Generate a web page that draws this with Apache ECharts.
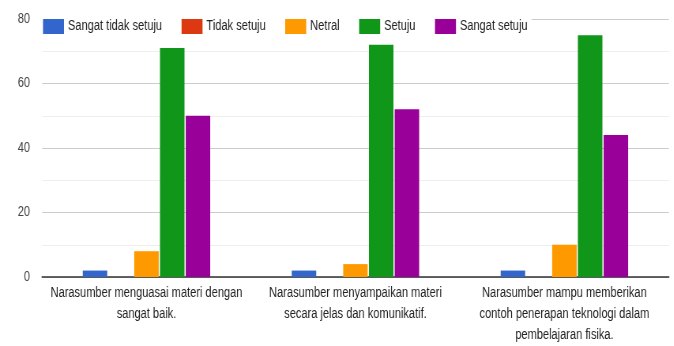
<!DOCTYPE html>
<html><head><meta charset="utf-8">
<script src="https://cdn.jsdelivr.net/npm/echarts@6/dist/echarts.min.js"></script>
<style>
html,body{margin:0;padding:0;background:#fff;overflow:hidden}
#wrap{width:674px;height:346px;overflow:hidden}
#c{width:853px;height:346px;transform:scaleX(0.79);transform-origin:0 0}
</style>
</head><body><div id="wrap"><div id="c"></div></div>
<script>
const categories = [
  "Narasumber menguasai materi dengan\nsangat baik.",
  "Narasumber menyampaikan materi\nsecara jelas dan komunikatif.",
  "Narasumber mampu memberikan\ncontoh penerapan teknologi dalam\npembelajaran fisika."
];
const seriesNames = ["Sangat tidak setuju", "Tidak setuju", "Netral", "Setuju", "Sangat setuju"];
const sangatTidakSetuju = [2, 2, 2];
const tidakSetuju = [0, 0, 0];
const netral = [8, 4, 10];
const setuju = [71, 72, 75];
const sangatSetuju = [50, 52, 44];
const yTicks = [0, 20, 40, 60, 80];
const colors = ["#3366CC", "#DC3912", "#FF9900", "#109618", "#990099"];
const values = [sangatTidakSetuju, tidakSetuju, netral, setuju, sangatSetuju];
const FONT = "'Liberation Sans', Arial, sans-serif";
const SX = 0.79; // horizontal squeeze of the reference image

const chart = echarts.init(document.getElementById('c'));
chart.setOption({
  animation: false,
  textStyle: { fontFamily: FONT },
  legend: {
    left: 43 / SX - 5, top: 14, padding: [5, 5, 5, 5],
    backgroundColor: '#fff',
    itemWidth: 21 / SX, itemHeight: 15, itemGap: 19.5 / SX,
    icon: 'rect',
    textStyle: { fontFamily: FONT, fontSize: 14, color: '#222' },
    data: seriesNames
  },
  grid: { left: 42 / SX, right: 5 / SX, top: 19, bottom: 66, containLabel: false },
  xAxis: {
    type: 'category', data: categories,
    axisLine: { lineStyle: { color: '#333', width: 1.5 } },
    axisTick: { show: false },
    axisLabel: { interval: 0, color: '#222', fontFamily: FONT, fontSize: 14, lineHeight: 21, margin: 6 }
  },
  yAxis: {
    type: 'value', min: 0, max: yTicks[yTicks.length - 1], interval: 20,
    axisLine: { show: false }, axisTick: { show: false },
    axisLabel: { color: '#444', fontFamily: FONT, fontSize: 14, margin: 12 / SX },
    splitLine: { lineStyle: { color: '#cccccc', width: 1 } },
    minorTick: { show: false, splitNumber: 2 },
    minorSplitLine: { show: true, lineStyle: { color: '#eeeeee', width: 1 } }
  },
  series: seriesNames.map((n, i) => ({
    name: n, type: 'bar', data: values[i],
    itemStyle: { color: colors[i] },
    barGap: '5%', barCategoryGap: '39%'
  }))
});
</script></body></html>
